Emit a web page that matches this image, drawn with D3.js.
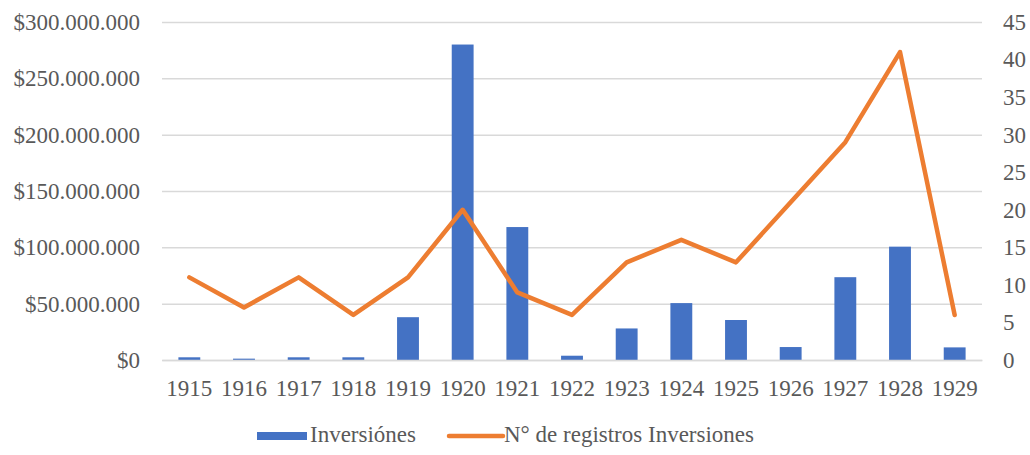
<!DOCTYPE html>
<html>
<head>
<meta charset="utf-8">
<script src="https://cdn.jsdelivr.net/npm/d3@7"></script>
</head>
<body style="margin:0">
<script>
const years = ["1915", "1916", "1917", "1918", "1919", "1920", "1921", "1922", "1923", "1924", "1925", "1926", "1927", "1928", "1929"];
const inversiones = [2400000, 1200000, 2400000, 2400000, 38000000, 280000000, 118000000, 3800000, 28000000, 50500000, 35500000, 11500000, 73500000, 100600000, 11200000];
const registros = [11, 7, 11, 6, 11, 20, 9, 6, 13, 16, 13, 21, 29, 41, 6];
const leftTicks = [0, 50000000, 100000000, 150000000, 200000000, 250000000, 300000000];
const rightTicks = [0, 5, 10, 15, 20, 25, 30, 35, 40, 45];

const W = 1030, H = 455;
const plot = { left: 162, right: 982, top: 22, bottom: 360 };
const BAR_COLOR = "#4472C4", LINE_COLOR = "#ED7D31", GRID = "#D9D9D9";

function _textStyle(selection) {
    selection.style("font-family", "'Liberation Serif', 'Times New Roman', serif").style("font-size", "23px").attr("fill", "#595959");
}

const svg = d3.select("body").append("svg")
    .attr("width", W)
    .attr("height", H);

const x = d3.scaleBand()
    .domain(years)
    .range([plot.left, plot.right])
    .paddingInner(0.6)
    .paddingOuter(0.3);

const yL = d3.scaleLinear().domain([0, 300000000]).range([plot.bottom, plot.top]);
const yR = d3.scaleLinear().domain([0, 45]).range([plot.bottom, plot.top]);

const money = d => "$" + d3.format(",")(d).replace(/,/g, ".");

// gridlines
svg.append("g")
    .attr("transform", `translate(${plot.left},0)`)
    .call(d3.axisLeft(yL).tickValues(leftTicks).tickSize(-(plot.right - plot.left)).tickFormat(""))
    .call(sel => sel.select(".domain").remove())
    .call(sel => sel.selectAll(".tick line").attr("stroke", GRID).attr("stroke-width", 1.5));

// bars
svg.selectAll(".bar")
    .data(years.map((y, i) => ({ year: y, value: inversiones[i] })))
    .join("rect")
    .attr("class", "bar")
    .attr("x", d => x(d.year))
    .attr("y", d => yL(d.value))
    .attr("width", x.bandwidth())
    .attr("height", d => yL(0) - yL(d.value))
    .attr("fill", BAR_COLOR);

// line
const line = d3.line()
    .x((d, i) => x(years[i]) + x.bandwidth() / 2)
    .y(d => yR(d));

svg.append("path")
    .datum(registros)
    .attr("d", line)
    .attr("fill", "none")
    .attr("stroke", LINE_COLOR)
    .attr("stroke-width", 4.5)
    .attr("stroke-linejoin", "round")
    .attr("stroke-linecap", "round");

// left axis labels
svg.append("g")
    .attr("transform", `translate(140,0)`)
    .call(d3.axisLeft(yL).tickValues(leftTicks).tickSize(0).tickPadding(0).tickFormat(money))
    .call(sel => sel.select(".domain").remove())
    .call(sel => sel.selectAll(".tick text").call(_textStyle));

// right axis labels
svg.append("g")
    .attr("transform", `translate(1003,0)`)
    .call(d3.axisRight(yR).tickValues(rightTicks).tickSize(0).tickPadding(0))
    .call(sel => sel.select(".domain").remove())
    .call(sel => sel.selectAll(".tick text").call(_textStyle));

// x axis
svg.append("g")
    .attr("transform", `translate(0,${plot.bottom})`)
    .call(d3.axisBottom(x).tickSize(0).tickPadding(20))
    .call(sel => sel.select(".domain").attr("stroke", GRID).attr("stroke-width", 1.5))
    .call(sel => sel.selectAll(".tick text").call(_textStyle));

// legend
const legend = svg.append("g").attr("class", "legend");
legend.append("rect")
    .attr("x", 257).attr("y", 432)
    .attr("width", 50).attr("height", 8)
    .attr("fill", BAR_COLOR);
legend.append("text")
    .attr("x", 310).attr("y", 442)
    .call(_textStyle)
    .text("Inversiónes");
legend.append("line")
    .attr("x1", 449).attr("x2", 503)
    .attr("y1", 436).attr("y2", 436)
    .attr("stroke", LINE_COLOR)
    .attr("stroke-width", 4.5)
    .attr("stroke-linecap", "round");
legend.append("text")
    .attr("x", 504).attr("y", 442)
    .call(_textStyle)
    .text("N° de registros Inversiones");
</script>
</body>
</html>
